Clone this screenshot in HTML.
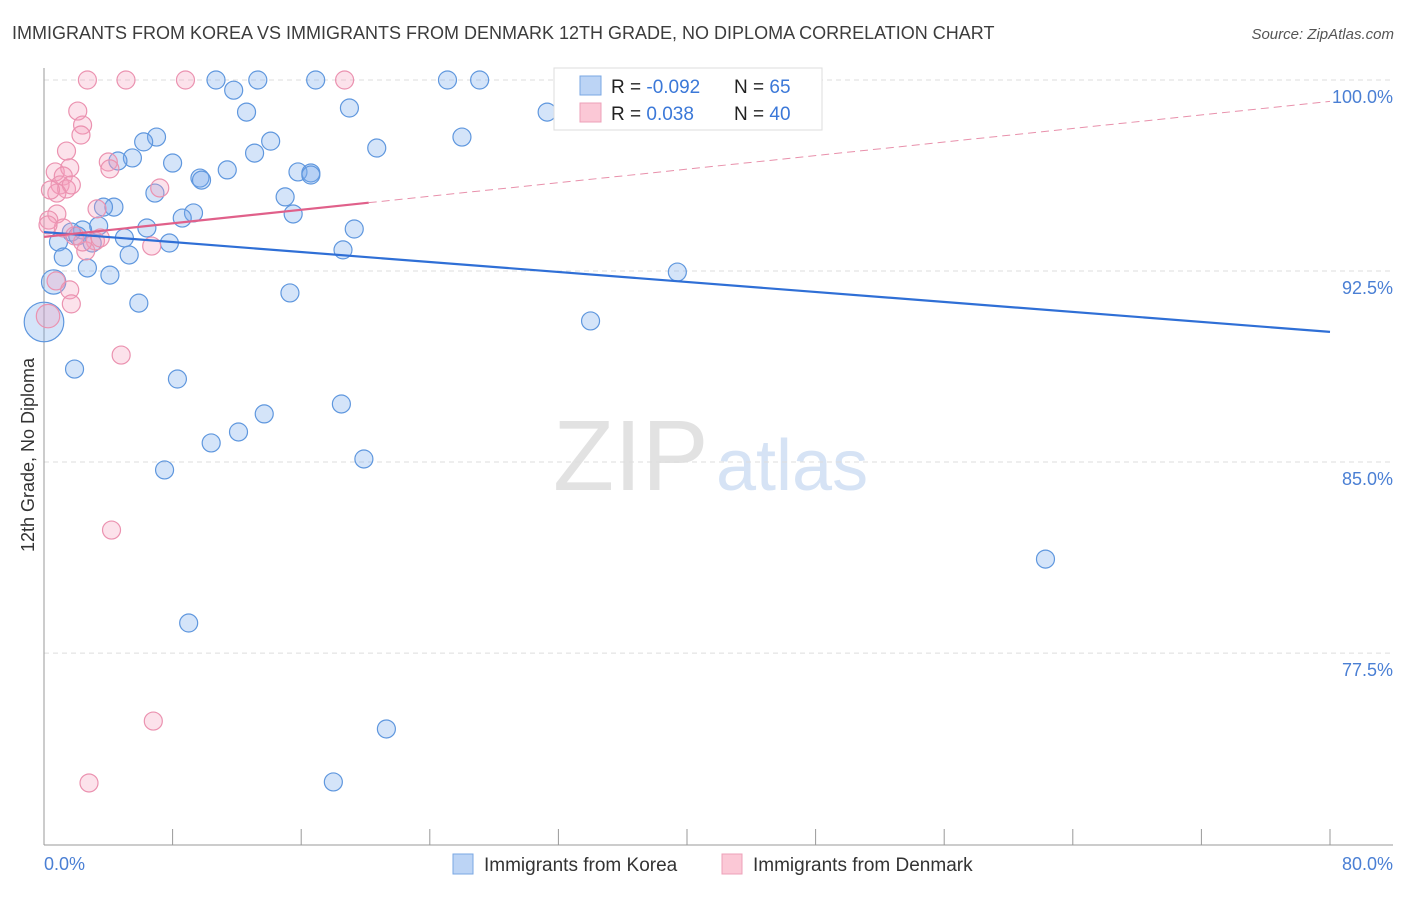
<!DOCTYPE html>
<html><head><meta charset="utf-8"><style>
body{margin:0;background:#fff;font-family:"Liberation Sans",sans-serif;}
svg text{font-family:"Liberation Sans",sans-serif;}
</style></head><body>
<svg id="chart" width="1406" height="892" xmlns="http://www.w3.org/2000/svg">
<text x="12" y="39" font-size="18" fill="#3c3c3c">IMMIGRANTS FROM KOREA VS IMMIGRANTS FROM DENMARK 12TH GRADE, NO DIPLOMA CORRELATION CHART</text>
<text x="1394" y="39" font-size="15" fill="#555" text-anchor="end" font-style="italic">Source: ZipAtlas.com</text>
<g>
<text x="553" y="490" font-size="100" fill="#e2e2e2" font-family="Liberation Serif, serif">ZIP</text>
<text x="716" y="490" font-size="72" fill="#d6e3f5">atlas</text>
</g>
<g id="grid"></g>
<g id="axes"></g>
<g id="marks"></g>
<text transform="translate(34,455) rotate(-90)" font-size="18" fill="#333" text-anchor="middle">12th Grade, No Diploma</text>
<g>
<rect x="554" y="68" width="268" height="62" fill="#fff" stroke="#ddd"/>
<rect x="580" y="76" width="21" height="19" fill="#bcd4f5" stroke="#7aa7e3"/>
<rect x="580" y="103" width="21" height="19" fill="#fbc8d6" stroke="#eea0b8"/>
<text x="611" y="93" font-size="19" fill="#222">R = <tspan fill="#3b78d8">-0.092</tspan></text>
<text x="734" y="93" font-size="19" fill="#222">N = <tspan fill="#3b78d8"> 65</tspan></text>
<text x="611" y="120" font-size="19" fill="#222">R = <tspan fill="#3b78d8"> 0.038</tspan></text>
<text x="734" y="120" font-size="19" fill="#222">N = <tspan fill="#3b78d8"> 40</tspan></text>
</g>
<g>
<rect x="453" y="854" width="20" height="20" fill="#bcd4f5" stroke="#7aa7e3"/>
<text x="484" y="871" font-size="19" fill="#333">Immigrants from Korea</text>
<rect x="722" y="854" width="20" height="20" fill="#fbc8d6" stroke="#eea0b8"/>
<text x="753" y="871" font-size="19" fill="#333">Immigrants from Denmark</text>
</g>
</svg>
<script>
const koreaX=[10.7,11.8,13.3,16.9,25.1,27.1,39.3,12.6,19.0,31.3,26.0,7.0,6.2,14.1,20.7,13.1,5.5,4.6,8.0,11.4,9.7,9.8,15.8,16.6,16.6,6.9,15.0,4.35,3.7,9.3,8.6,15.5,6.4,3.4,2.4,1.7,19.3,5.0,7.8,3.0,0.9,2.1,18.6,1.2,5.3,2.7,4.1,39.4,0.6,15.3,5.9,34.0,0.0,1.9,8.3,18.5,13.7,12.1,10.4,19.9,7.5,62.3,9.0,21.3,18.0];
const koreaY=[100,99.6,100,100,100,100,100,98.74,98.9,98.74,97.76,97.76,97.57,97.6,97.33,97.13,96.94,96.82,96.74,96.47,96.15,96.07,96.39,96.35,96.27,95.56,95.41,95.01,95.01,94.78,94.58,94.74,94.19,94.27,94.11,94.03,94.15,93.8,93.6,93.6,93.64,93.88,93.33,93.05,93.13,92.62,92.34,92.46,92.07,91.64,91.24,90.54,90.5,88.65,88.26,87.28,86.89,86.18,85.75,85.12,84.69,81.19,78.68,74.52,72.44];
const koreaSize=[1,1,1,1,1,1,1,1,1,1,1,1,1,1,1,1,1,1,1,1,1,1,1,1,1,1,1,1,1,1,1,1,1,1,1,1,1,1,1,1,1,1,1,1,1,1,1,1,1.35,1,1,1,2.2,1,1,1,1,1,1,1,1,1,1,1,1];
const denX=[2.7,5.1,8.8,18.7,2.1,2.4,2.3,1.4,4.0,4.1,0.7,1.6,1.2,1.0,1.4,7.2,1.7,0.8,0.4,3.3,0.8,0.3,1.2,0.25,1.9,3.2,6.7,2.6,0.75,1.6,1.7,0.25,4.8,4.2,6.8,2.8,2.4,3.5];
const denY=[100,100,100,100,98.78,98.23,97.84,97.21,96.78,96.51,96.39,96.55,96.23,95.88,95.72,95.76,95.88,95.56,95.68,94.94,94.74,94.5,94.19,94.31,93.88,93.68,93.48,93.29,92.11,91.76,91.21,90.73,89.2,82.33,74.83,72.4,93.64,93.8];
const denSize=[1,1,1,1,1,1,1,1,1,1,1,1,1,1,1,1,1,1,1,1,1,1,1,1,1,1,1,1,1,1,1,1.3,1,1,1,1,1,1];
const koreaTrend=[94.03,90.11]; // value at x=0 and x=80
const denTrend=[93.84,99.16];
const denSolidEnd=20.2;
const yTicks=[100,92.5,85,77.5];
const yTickLabels=["100.0%","92.5%","85.0%","77.5%"];
const xTicks=[0,8,16,24,32,40,48,56,64,72,80];
const xLabels=["0.0%","80.0%"];
const NS="http://www.w3.org/2000/svg";
const X0=44,X1=1330,Y100=80,PXPER=25.47;
const sx=v=>X0+v*(X1-X0)/80;
const sy=v=>Y100+(100-v)*PXPER;
function mk(tag,attrs,parent){const e=document.createElementNS(NS,tag);for(const k in attrs)e.setAttribute(k,attrs[k]);parent.appendChild(e);return e;}
const grid=document.getElementById('grid'),axes=document.getElementById('axes'),marks=document.getElementById('marks');
yTicks.forEach((t,i)=>{
 const l=mk('line',{x1:X0,x2:1393,y1:sy(t),y2:sy(t),stroke:'#ddd','stroke-dasharray':'5,4'},grid);
 
 
 const tx=mk('text',{x:1393,y:sy(t)+23,'font-size':18,fill:'#4a7fd4','text-anchor':'end'},axes);
 tx.textContent=yTickLabels[i];
 
 
});
const ya=mk('line',{x1:X0,x2:X0,y1:68,y2:845,stroke:'#999'},axes);


const xa=mk('line',{x1:X0,x2:1393,y1:845,y2:845,stroke:'#999'},axes);


xTicks.forEach(t=>{
 const l=mk('line',{x1:sx(t),x2:sx(t),y1:829,y2:845,stroke:'#999'},axes);
 
 
});
const xl0=mk('text',{x:44,y:870,'font-size':18,fill:'#4a7fd4'},axes);xl0.textContent=xLabels[0];


const xl1=mk('text',{x:1393,y:870,'font-size':18,fill:'#4a7fd4','text-anchor':'end'},axes);xl1.textContent=xLabels[1];


koreaX.forEach((x,i)=>{
 const c=mk('circle',{cx:sx(x),cy:sy(koreaY[i]),r:9*koreaSize[i],fill:'rgba(120,170,235,0.32)',stroke:'#5f97de','stroke-width':1.2},marks);
 
 
});
denX.forEach((x,i)=>{
 const c=mk('circle',{cx:sx(x),cy:sy(denY[i]),r:9*denSize[i],fill:'rgba(245,160,190,0.3)',stroke:'#eb92b0','stroke-width':1.2},marks);
 
 
});
const kt=mk('line',{x1:sx(0),y1:sy(koreaTrend[0]),x2:sx(80),y2:sy(koreaTrend[1]),stroke:'#2f6fd6','stroke-width':2.2},marks);


const dAt=x=>denTrend[0]+(denTrend[1]-denTrend[0])*x/80;
const dt=mk('line',{x1:sx(0),y1:sy(dAt(0)),x2:sx(denSolidEnd),y2:sy(dAt(denSolidEnd)),stroke:'#e0608a','stroke-width':2.2},marks);


const dd=mk('line',{x1:sx(denSolidEnd),y1:sy(dAt(denSolidEnd)),x2:sx(80),y2:sy(dAt(80)),stroke:'#e890ab','stroke-width':1,'stroke-dasharray':'8,5'},marks);


</script>
</body></html>
